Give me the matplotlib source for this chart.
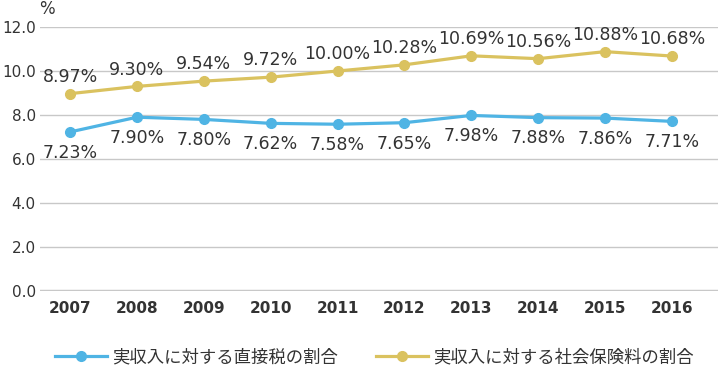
import matplotlib.pyplot as plt
import numpy as np

plt.rcParams['font.family'] = ['DejaVu Sans', 'Noto Sans CJK JP']

years = ["2007", "2008", "2009", "2010", "2011", "2012", "2013", "2014", "2015", "2016"]
direct_tax = [7.23, 7.90, 7.80, 7.62, 7.58, 7.65, 7.98, 7.88, 7.86, 7.71]
social_ins = [8.97, 9.30, 9.54, 9.72, 10.00, 10.28, 10.69, 10.56, 10.88, 10.68]
labels = ["実収入に対する直接税の割合", "実収入に対する社会保険料の割合"]

blue = "#4fb4e4"
gold = "#dac25f"
text_col = "#333333"

fig = plt.figure(figsize=(7.2, 3.79), dpi=100)
ax = fig.add_axes([40 / 720, 1 - 291 / 379, 678 / 720, 264 / 379])

x = np.arange(len(years))
ax.plot(x, direct_tax, color=blue, lw=2.3, marker="o", ms=7, label=labels[0], zorder=3)
ax.plot(x, social_ins, color=gold, lw=2.3, marker="o", ms=7, label=labels[1], zorder=3)

# value labels: below for the blue line, above for the gold one
for xi, v in zip(x, direct_tax):
    ax.annotate(f"{v:.2f}%", (xi, v), xytext=(0, -15), textcoords="offset points",
                ha="center", va="center", fontsize=12.5, color=text_col)
for xi, v in zip(x, social_ins):
    ax.annotate(f"{v:.2f}%", (xi, v), xytext=(0, 12), textcoords="offset points",
                ha="center", va="center", fontsize=12.5, color=text_col)

ax.set_xlim(-0.45, 9.69)
ax.set_ylim(0, 12)
ax.set_yticks(np.arange(0, 12.1, 2))
ax.set_yticklabels([f"{t:.1f}" for t in np.arange(0, 12.1, 2)], fontsize=11, color=text_col)
ax.set_xticks(x)
ax.set_xticklabels(years, fontsize=11, fontweight="bold", color=text_col)
ax.tick_params(axis="both", length=0)
ax.tick_params(axis="y", pad=3)
ax.tick_params(axis="x", pad=7)

ax.grid(axis="y", color="#c8c8c8", lw=1)
ax.set_axisbelow(True)
for s in ax.spines.values():
    s.set_visible(False)
ax.axhline(0, color="#c8c8c8", lw=2.5, zorder=1)

fig.text(47 / 720, 1 - 9 / 379, "%", fontsize=12, color=text_col, ha="center", va="center")

fig.legend(loc="center", bbox_to_anchor=(0.52, 1 - 357 / 379), ncol=2, frameon=False,
           handlelength=3, columnspacing=2.2, handletextpad=0.3,
           labelcolor=text_col, prop={'family': ['Noto Sans CJK JP'], 'size': 12.5})

fig.savefig("out.png", dpi=100)
